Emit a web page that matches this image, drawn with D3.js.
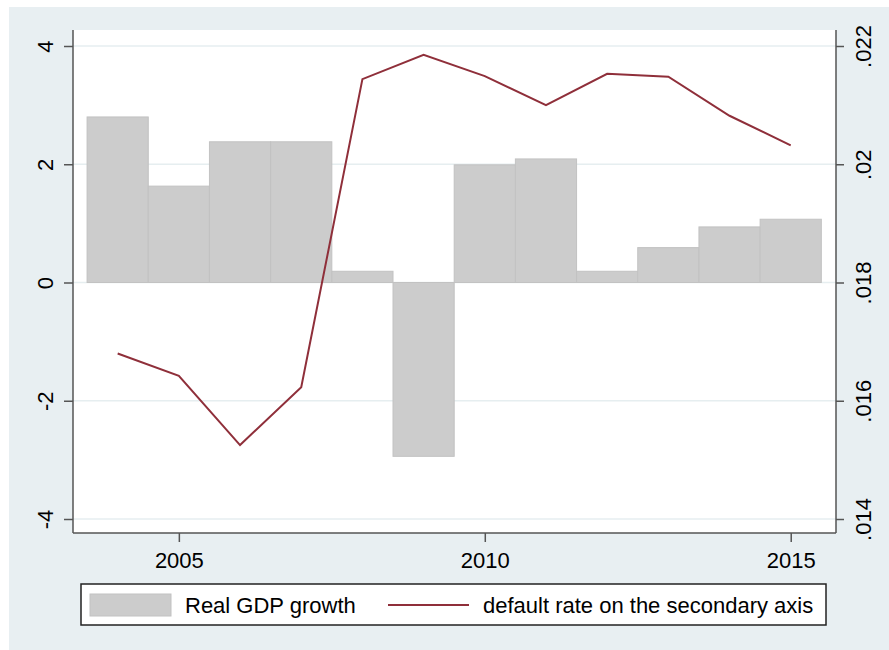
<!DOCTYPE html>
<html>
<head>
<meta charset="utf-8">
<script src="https://cdn.jsdelivr.net/npm/d3@7"></script>
<style>
  body { margin: 0; background: #fff; }
  text { font-family: "Liberation Sans", Arial, sans-serif; fill: #000; }
</style>
</head>
<body>
<script>
// Chart data
var years = [2004, 2005, 2006, 2007, 2008, 2009, 2010, 2011, 2012, 2013, 2014, 2015];
var gdp_growth = [2.80, 1.63, 2.38, 2.38, 0.19, -2.94, 1.99, 2.09, 0.19, 0.59, 0.94, 1.07];
var default_rate = [0.01680, 0.01642, 0.01525, 0.01623, 0.02144, 0.02185, 0.02149, 0.02100, 0.02153, 0.02148, 0.02082, 0.02032];
var left_ticks = [-4, -2, 0, 2, 4];
var right_ticks = [0.014, 0.016, 0.018, 0.020, 0.022];
var x_ticks = [2005, 2010, 2015];
var legend_labels = ["Real GDP growth", "default rate on the secondary axis"];

var width = 889, height = 650;
var plot = { left: 73, right: 836, top: 30, bottom: 533 };

var svg = d3.select("body").append("svg")
  .attr("width", width)
  .attr("height", height);

// Background and plot region
svg.append("rect")
  .attr("x", 9).attr("y", 7)
  .attr("width", width - 9).attr("height", height - 7)
  .attr("fill", "#e8eff2");
svg.append("rect")
  .attr("x", plot.left).attr("y", plot.top)
  .attr("width", plot.right - plot.left).attr("height", plot.bottom - plot.top)
  .attr("fill", "#fff");

// Scales
var x = d3.scaleLinear().domain([2003.27, 2015.74]).range([plot.left, plot.right]);
var yL = d3.scaleLinear().domain([-4, 4]).range([519, 46]);
var yR = d3.scaleLinear().domain([0.014, 0.022]).range([519, 46]);

// Gridlines
svg.append("g").selectAll("line")
    .data(left_ticks).enter()
  .append("line")
    .attr("x1", plot.left).attr("x2", plot.right)
    .attr("y1", function(d) { return yL(d); })
    .attr("y2", function(d) { return yL(d); })
    .attr("stroke", "#e6eef0")
    .attr("stroke-width", 1.5);

// Bars
svg.append("g").selectAll("rect")
    .data(years).enter()
  .append("rect")
    .attr("x", function(d) { return x(d - 0.5); })
    .attr("width", function(d) { return x(d + 0.5) - x(d - 0.5); })
    .attr("y", function(d, i) { return yL(Math.max(0, gdp_growth[i])); })
    .attr("height", function(d, i) { return Math.abs(yL(gdp_growth[i]) - yL(0)); })
    .attr("fill", "#cccccc")
    .attr("stroke", "#c2c2c2")
    .attr("stroke-width", 1);

// Line on the secondary axis
var line = d3.line()
  .x(function(d) { return x(d); })
  .y(function(d, i) { return yR(default_rate[i]); });
svg.append("path")
  .datum(years)
  .attr("d", line)
  .attr("fill", "none")
  .attr("stroke", "#8f2f3a")
  .attr("stroke-width", 2);

// Axes
function style_axis(g) {
  g.select(".domain").attr("stroke", "#555").attr("stroke-width", 1.5);
  g.selectAll(".tick line").attr("stroke", "#555").attr("stroke-width", 1.5);
  g.selectAll("text").style("font-size", "22px").attr("fill", "#000");
}

var axL = svg.append("g")
  .attr("transform", "translate(" + plot.left + ",0)")
  .call(d3.axisLeft(yL).tickValues(left_ticks).tickSize(9).tickSizeOuter(0)
    .tickFormat(function(d) { return String(d); }));
axL.select(".domain").attr("d", "M0," + plot.top + "V" + plot.bottom);
style_axis(axL);
axL.selectAll(".tick text")
  .attr("transform", "rotate(-90)")
  .attr("x", 0).attr("y", -20).attr("dy", 0)
  .attr("text-anchor", "middle");

var axR = svg.append("g")
  .attr("transform", "translate(" + plot.right + ",0)")
  .call(d3.axisRight(yR).tickValues(right_ticks).tickSize(8).tickSizeOuter(0)
    .tickFormat(function(d) { return d3.format(".3~f")(d).replace(/^0/, ""); }));
axR.select(".domain").attr("d", "M0," + plot.top + "V" + plot.bottom);
style_axis(axR);
axR.selectAll(".tick text")
  .attr("transform", "rotate(-90)")
  .attr("x", 0).attr("y", 35).attr("dy", 0)
  .attr("text-anchor", "middle");

var axB = svg.append("g")
  .attr("transform", "translate(0," + plot.bottom + ")")
  .call(d3.axisBottom(x).tickValues(x_ticks).tickSize(9).tickSizeOuter(0)
    .tickFormat(d3.format("d")));
axB.select(".domain").attr("d", "M" + plot.left + ",0H" + plot.right);
style_axis(axB);
axB.selectAll(".tick text").attr("y", 35).attr("dy", 0);

// Legend
var legend = svg.append("g");
legend.append("rect")
  .attr("x", 81).attr("y", 584)
  .attr("width", 745).attr("height", 41)
  .attr("fill", "#fff")
  .attr("stroke", "#222")
  .attr("stroke-width", 1.5);
legend.append("rect")
  .attr("x", 90).attr("y", 594)
  .attr("width", 81).attr("height", 22)
  .attr("fill", "#cccccc")
  .attr("stroke", "#c2c2c2");
legend.append("text")
  .attr("x", 185).attr("y", 613)
  .style("font-size", "22px")
  .text(legend_labels[0]);
legend.append("line")
  .attr("x1", 388).attr("x2", 469)
  .attr("y1", 605).attr("y2", 605)
  .attr("stroke", "#8f2f3a")
  .attr("stroke-width", 2);
legend.append("text")
  .attr("x", 483).attr("y", 613)
  .style("font-size", "22px")
  .text(legend_labels[1]);
</script>
</body>
</html>
